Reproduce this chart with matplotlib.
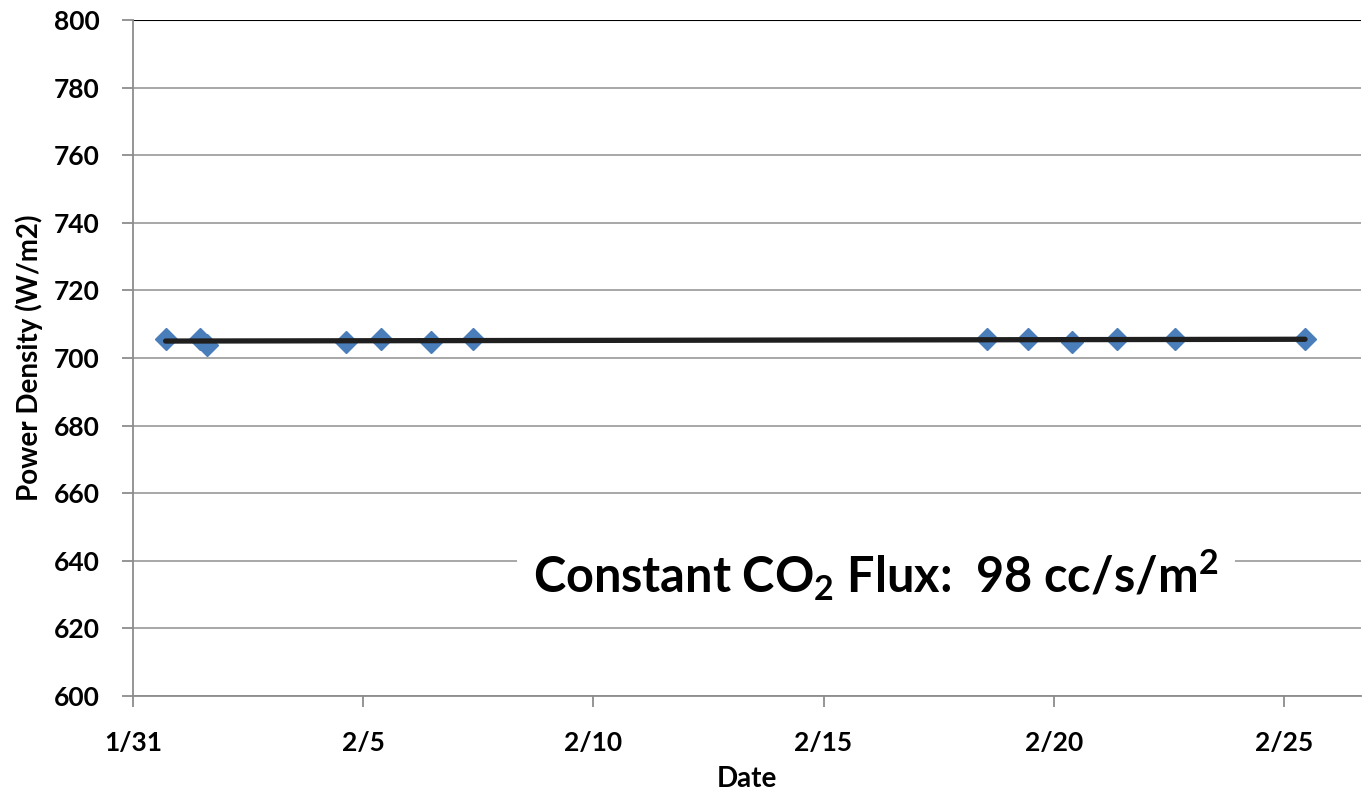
import matplotlib.pyplot as plt
import matplotlib.dates as mdates
import numpy as np
import pandas as pd

plt.rcParams['font.family'] = ['Lato', 'DejaVu Sans']
plt.rcParams['font.weight'] = 'bold'
plt.rcParams['mathtext.fontset'] = 'custom'
plt.rcParams['mathtext.rm'] = 'Lato:bold'
plt.rcParams['mathtext.default'] = 'rm'

# measurements
times = pd.to_datetime([
    "2013-01-31 17:00", "2013-02-01 11:00", "2013-02-01 14:40",
    "2013-02-04 15:10", "2013-02-05 09:20", "2013-02-06 11:30",
    "2013-02-07 09:20", "2013-02-18 13:00", "2013-02-19 10:20",
    "2013-02-20 09:20", "2013-02-21 08:50", "2013-02-22 15:10",
    "2013-02-25 11:00",
])
power = [705.6, 705.6, 703.8, 704.7, 705.6, 704.7, 705.6,
         705.6, 705.6, 704.7, 705.6, 705.6, 705.6]

tick_dates = pd.to_datetime(["2013-01-31", "2013-02-05", "2013-02-10",
                             "2013-02-15", "2013-02-20", "2013-02-25"])
tick_labels = ["1/31", "2/5", "2/10", "2/15", "2/20", "2/25"]
yticks = np.arange(600, 801, 20)

fig = plt.figure(figsize=(13.64, 7.96), dpi=100)
ax = fig.add_axes([0.0975, 0.1256, 0.9005, 0.8493])

xnum = mdates.date2num(times)
ax.plot(times, power, linestyle='none', marker='D', markersize=11,
        color='#4a7ebb', zorder=3)

# linear trend line
coef = np.polyfit(xnum, power, 1)
xfit = np.array([xnum[0], xnum[-1]])
ax.plot(mdates.num2date(xfit), np.polyval(coef, xfit), color='#1f1f1f',
        linewidth=3.8, solid_capstyle='round', zorder=4)

ax.set_ylim(600, 800)
ax.set_xlim(mdates.date2num(tick_dates[0]), mdates.date2num(tick_dates[0]) + 26.68)
ax.set_yticks(yticks)
ax.set_xticks(tick_dates)
ax.set_xticklabels(tick_labels)

ax.grid(axis='y', color='#a0a0a0', linewidth=1.3)
ax.set_axisbelow(True)
for s in ['right', 'top']:
    ax.spines[s].set_visible(False)
for s in ['left', 'bottom']:
    ax.spines[s].set_color('#8c8c8c')
    ax.spines[s].set_linewidth(1.3)
ax.axhline(800, color='black', linewidth=1.5)

ax.tick_params(axis='both', colors='#8c8c8c', length=8, width=1.3,
               labelcolor='black', labelsize=19)
ax.tick_params(axis='x', pad=17)
ax.tick_params(axis='y', pad=16)

ax.set_xlabel('Date', fontsize=20, fontweight='bold', labelpad=8)
ax.set_ylabel('Power Density (W/m2)', fontsize=20, fontweight='bold', labelpad=8)

ax.text(0.605, 0.178, 'Constant CO$_2$ Flux:  98 cc/s/m$^2$', transform=ax.transAxes,
        fontsize=35, fontweight='bold', ha='center', va='center',
        bbox=dict(facecolor='white', edgecolor='none', pad=12))

fig.savefig('out.png', dpi=100)
